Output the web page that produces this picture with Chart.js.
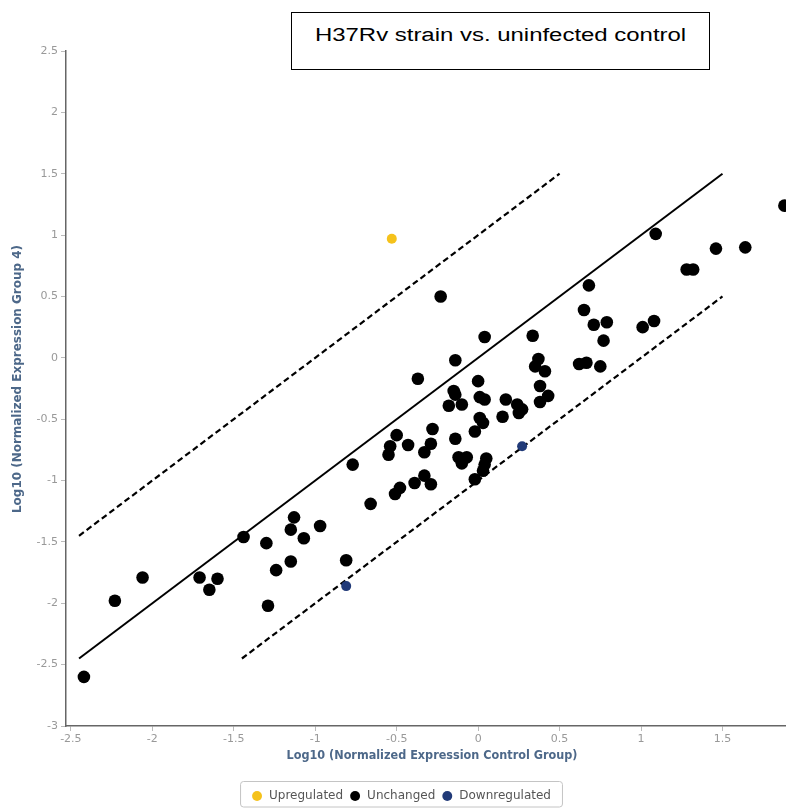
<!DOCTYPE html>
<html>
<head>
<meta charset="utf-8">
<script src="https://cdn.jsdelivr.net/npm/chart.js@4/dist/chart.umd.min.js"></script>
<style>
  html, body { margin: 0; padding: 0; background: #fff; overflow: hidden; }
  #wrap { position: relative; width: 786px; height: 812px; }
  #title {
    position: absolute; left: 291px; top: 12px; width: 419px; height: 58px;
    box-sizing: border-box; border: 1.5px solid #000; background: #fff;
    text-align: center; padding-top: 12.5px;
    font: 18px/18px "Liberation Sans", Arial, sans-serif; color: #000;
  }
  #title span { display: inline-block; transform: scaleX(1.33); white-space: nowrap; }
</style>
</head>
<body>
<div id="wrap">
  <canvas id="chart" width="786" height="812" style="width:786px;height:812px"></canvas>
  <div id="title"><span>H37Rv strain vs. uninfected control</span></div>
</div>
<script>
const seriesNames = ['Upregulated', 'Unchanged', 'Downregulated'];
const xTitle = 'Log10 (Normalized Expression Control Group)';
const yTitle = 'Log10 (Normalized Expression Group 4)';

const upX = [-0.53];
const upY = [0.97];

const unchangedX = [-2.42, -2.23, -2.06, -1.71, -1.60, -1.65, -1.44, -1.30, -1.29, -1.24,
  -1.15, -1.15, -1.13, -1.07, -0.97, -0.81, -0.77, -0.66, -0.51, -0.48,
  -0.55, -0.54, -0.50, -0.43, -0.39, -0.37, -0.33, -0.33, -0.29, -0.29,
  -0.28, -0.23, -0.18, -0.15, -0.14, -0.14, -0.14, -0.12, -0.10, -0.10,
  -0.07, -0.02, -0.02, 0.00, 0.01, 0.01, 0.03, 0.03, 0.04, 0.04,
  0.04, 0.05, 0.15, 0.17, 0.24, 0.25, 0.27, 0.335, 0.35, 0.37,
  0.38, 0.38, 0.41, 0.43, 0.62, 0.665, 0.75, 0.77, 0.65, 0.68,
  0.71, 0.79, 1.01, 1.08, 1.09, 1.28, 1.32, 1.46, 1.64, 1.88];
const unchangedY = [-2.60, -1.98, -1.79, -1.79, -1.80, -1.89, -1.46, -1.51, -2.02, -1.73,
  -1.66, -1.40, -1.30, -1.47, -1.37, -1.65, -0.87, -1.19, -1.11, -1.06,
  -0.79, -0.72, -0.63, -0.71, -1.02, -0.17, -0.96, -0.77, -0.70, -1.03,
  -0.58, 0.50, -0.39, -0.27, -0.30, -0.02, -0.66, -0.81, -0.38, -0.86,
  -0.81, -0.60, -0.99, -0.19, -0.32, -0.49, -0.53, -0.92, -0.34, -0.87,
  0.17, -0.82, -0.48, -0.34, -0.38, -0.45, -0.42, 0.18, -0.07, -0.01,
  -0.23, -0.36, -0.11, -0.31, -0.05, -0.04, -0.07, 0.14, 0.39, 0.59,
  0.27, 0.29, 0.25, 0.30, 1.01, 0.72, 0.72, 0.89, 0.90, 1.24];

const downX = [-0.81, 0.27];
const downY = [-1.86, -0.72];

// reference lines: y = x and the two-fold bands y = x +/- 1
const diagX = [-2.45, 1.5];
const diagY = [-2.45, 1.5];
const upperX = [-2.45, 0.5];
const upperY = [-1.45, 1.5];
const lowerX = [-1.45, 1.5];
const lowerY = [-2.45, 0.5];

const xTicks = [-2.5, -2, -1.5, -1, -0.5, 0, 0.5, 1, 1.5];
const yTicks = [-3, -2.5, -2, -1.5, -1, -0.5, 0, 0.5, 1, 1.5, 2, 2.5];

const toPoints = (xs, ys) => xs.map((x, i) => ({ x: x, y: ys[i] }));

function drawFitted(ctx, text, cx, cy, width, rotate) {
  ctx.save();
  ctx.font = 'bold 12px "DejaVu Sans", sans-serif';
  ctx.fillStyle = '#4d6889';
  ctx.textAlign = 'center';
  ctx.textBaseline = 'middle';
  const w = ctx.measureText(text).width;
  ctx.translate(cx, cy);
  if (rotate) ctx.rotate(-Math.PI / 2);
  ctx.scale(width / w, 1);
  ctx.fillText(text, 0, 0);
  ctx.restore();
}

const extras = {
  id: 'extras',
  afterDraw(chart) {
    const ctx = chart.ctx;
    drawFitted(ctx, xTitle, 432, 756, 291, false);
    drawFitted(ctx, yTitle, 18, 379, 268, true);

    // border around the legend
    const boxes = chart.legend.legendHitBoxes;
    if (!boxes.length) return;
    const left = boxes[0].left - 11;
    const last = boxes[boxes.length - 1];
    const right = last.left + last.width + 11;
    const top = chart.legend.top - 3;
    const bottom = 808.5;
    ctx.save();
    ctx.strokeStyle = '#c4c4c4';
    ctx.lineWidth = 1;
    ctx.beginPath();
    ctx.roundRect(left + 0.5, top + 0.5, right - left, bottom - top - 2, 3);
    ctx.stroke();
    ctx.restore();
  }
};

const tickFont = { family: '"DejaVu Sans", sans-serif', size: 11 };

new Chart(document.getElementById('chart'), {
  type: 'scatter',
  data: {
    datasets: [
      { label: seriesNames[0], data: toPoints(upX, upY), backgroundColor: '#f5c21b',
        pointRadius: 5, pointBorderWidth: 0 },
      { label: seriesNames[1], data: toPoints(unchangedX, unchangedY), backgroundColor: '#000',
        pointRadius: 6.3, pointBorderWidth: 0 },
      { label: seriesNames[2], data: toPoints(downX, downY), backgroundColor: '#213a78',
        pointRadius: 5, pointBorderWidth: 0 },
      { label: 'y = x', data: toPoints(diagX, diagY), showLine: true, pointRadius: 0,
        borderColor: '#000', borderWidth: 2 },
      { label: 'upper', data: toPoints(upperX, upperY), showLine: true, pointRadius: 0,
        borderColor: '#000', borderWidth: 2.2, borderDash: [6, 3.5] },
      { label: 'lower', data: toPoints(lowerX, lowerY), showLine: true, pointRadius: 0,
        borderColor: '#000', borderWidth: 2.2, borderDash: [6, 3.5] }
    ]
  },
  options: {
    responsive: false,
    animation: false,
    layout: { autoPadding: false, padding: { top: 51, left: 16, right: 0, bottom: 0 } },
    scales: {
      x: {
        type: 'linear',
        min: -2.53,
        max: 1.89,
        afterBuildTicks: (scale) => { scale.ticks = xTicks.map(v => ({ value: v })); },
        afterFit: (scale) => { scale.height = 58; scale.paddingLeft = 0; scale.paddingRight = 0; },
        ticks: { font: tickFont, color: '#999', padding: 2, maxRotation: 0,
          callback: (v) => String(v) },
        grid: { drawOnChartArea: false, tickLength: 5, color: '#bbb' },
        border: { color: '#666', width: 1.5 }
      },
      y: {
        type: 'linear',
        min: -3,
        max: 2.5,
        afterBuildTicks: (scale) => { scale.ticks = yTicks.map(v => ({ value: v })); },
        afterFit: (scale) => { scale.width = 50; scale.paddingTop = 0; scale.paddingBottom = 0; },
        ticks: { font: tickFont, color: '#999', padding: 3,
          callback: (v) => String(v) },
        grid: { drawOnChartArea: false, tickLength: 5, color: '#bbb' },
        border: { color: '#666', width: 1.5 }
      }
    },
    plugins: {
      legend: {
        position: 'bottom',
        labels: {
          usePointStyle: true,
          boxHeight: 7,
          padding: 6,
          color: '#555',
          font: { family: '"DejaVu Sans", sans-serif', size: 12 },
          filter: (item) => item.datasetIndex < 3
        }
      },
      tooltip: { enabled: false }
    }
  },
  plugins: [extras]
});
</script>
</body>
</html>
